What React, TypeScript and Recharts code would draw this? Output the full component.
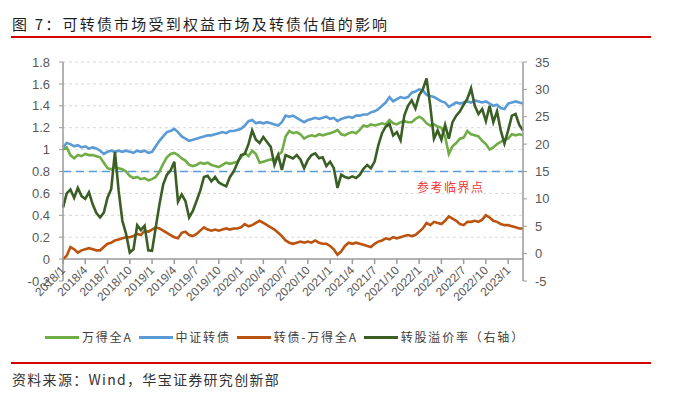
import { LineChart, Line, XAxis, YAxis, CartesianGrid, ReferenceLine } from 'recharts'

// half-month steps from 2018/1 to 2023/3
const quarterTicks = [0, 6, 12, 18, 24, 30, 36, 42, 48, 54, 60, 66, 72, 78, 84, 90, 96, 102, 108, 114, 120]
const quarterLabels = [
  '2018/1', '2018/4', '2018/7', '2018/10', '2019/1', '2019/4', '2019/7', '2019/10',
  '2020/1', '2020/4', '2020/7', '2020/10', '2021/1', '2021/4', '2021/7', '2021/10',
  '2022/1', '2022/4', '2022/7', '2022/10', '2023/1',
]

const leftTicks = [-0.2, 0, 0.2, 0.4, 0.6, 0.8, 1, 1.2, 1.4, 1.6, 1.8]
const rightTicks = [-5, 0, 5, 10, 15, 20, 25, 30, 35]
const gridValues = [0.2, 0.4, 0.6, 0.8, 1, 1.2, 1.4, 1.6, 1.8]

// 万得全A
const windA = [
  1.00, 1.02, 0.95, 0.92, 0.95, 0.94, 0.96, 0.95, 0.95, 0.94,
  0.93, 0.88, 0.83, 0.82, 0.84, 0.83, 0.82, 0.80, 0.76, 0.74,
  0.75, 0.73, 0.74, 0.72, 0.73, 0.75, 0.80, 0.87, 0.93, 0.96,
  0.97, 0.95, 0.92, 0.90, 0.86, 0.85, 0.86, 0.88, 0.87, 0.88,
  0.86, 0.85, 0.84, 0.86, 0.88, 0.87, 0.88, 0.89, 0.93, 0.97,
  0.94, 0.99, 0.96, 0.88, 0.89, 0.90, 0.91, 0.90, 0.95, 0.98,
  1.12, 1.17, 1.15, 1.16, 1.14, 1.10, 1.12, 1.13, 1.12, 1.14,
  1.13, 1.14, 1.15, 1.16, 1.18, 1.14, 1.13, 1.15, 1.16, 1.15,
  1.18, 1.22, 1.21, 1.23, 1.22, 1.23, 1.24, 1.23, 1.27, 1.24,
  1.23, 1.25, 1.26, 1.25, 1.25, 1.28, 1.30, 1.28, 1.24, 1.22,
  1.23, 1.21, 1.20, 1.12, 0.96, 1.03, 1.06, 1.10, 1.11, 1.17,
  1.14, 1.13, 1.12, 1.08, 1.05, 1.00, 1.02, 1.05, 1.07, 1.09,
  1.10, 1.14, 1.13, 1.14, 1.13,
]

// 中证转债
const cbIndex = [
  1.02, 1.06, 1.05, 1.03, 1.04, 1.02, 1.03, 1.01, 1.02, 1.01,
  0.99, 0.96, 0.98, 0.99, 0.98, 0.99, 0.98, 0.99, 0.98, 0.97,
  0.99, 0.98, 0.99, 0.97, 0.98, 1.03, 1.08, 1.12, 1.16, 1.17,
  1.19, 1.16, 1.12, 1.10, 1.08, 1.09, 1.10, 1.11, 1.12, 1.13,
  1.13, 1.14, 1.15, 1.16, 1.15, 1.17, 1.17, 1.18, 1.19, 1.22,
  1.26, 1.27, 1.24, 1.25, 1.24, 1.25, 1.24, 1.23, 1.22, 1.25,
  1.31, 1.30, 1.31, 1.29, 1.27, 1.25, 1.27, 1.28, 1.29, 1.28,
  1.29, 1.30, 1.28, 1.29, 1.26, 1.28, 1.29, 1.30, 1.29, 1.31,
  1.31, 1.32, 1.32, 1.34, 1.35, 1.37, 1.40, 1.43, 1.48, 1.44,
  1.46, 1.48, 1.47, 1.48, 1.52, 1.53, 1.55, 1.54, 1.50, 1.49,
  1.48, 1.46, 1.44, 1.43, 1.39, 1.41, 1.43, 1.42, 1.43, 1.44,
  1.43, 1.45, 1.44, 1.43, 1.44, 1.42, 1.40, 1.41, 1.38, 1.37,
  1.42, 1.43, 1.44, 1.43, 1.42,
]

// 转债-万得全A
const spread = [
  0.00, 0.03, 0.11, 0.09, 0.06, 0.08, 0.09, 0.10, 0.09, 0.08,
  0.08, 0.11, 0.14, 0.15, 0.17, 0.18, 0.19, 0.20, 0.20, 0.21,
  0.23, 0.22, 0.26, 0.25, 0.27, 0.29, 0.28, 0.26, 0.24, 0.22,
  0.20, 0.19, 0.24, 0.25, 0.22, 0.21, 0.23, 0.26, 0.29, 0.27,
  0.26, 0.27, 0.26, 0.27, 0.28, 0.27, 0.28, 0.28, 0.29, 0.32,
  0.30, 0.31, 0.33, 0.35, 0.33, 0.31, 0.29, 0.27, 0.24, 0.21,
  0.17, 0.15, 0.14, 0.15, 0.16, 0.15, 0.16, 0.15, 0.17, 0.15,
  0.14, 0.14, 0.12, 0.09, 0.04, 0.07, 0.12, 0.15, 0.14, 0.15,
  0.14, 0.13, 0.12, 0.11, 0.14, 0.16, 0.17, 0.19, 0.18, 0.20,
  0.19, 0.20, 0.21, 0.22, 0.21, 0.22, 0.25, 0.28, 0.33, 0.31,
  0.34, 0.33, 0.32, 0.35, 0.39, 0.37, 0.35, 0.32, 0.31, 0.34,
  0.34, 0.35, 0.34, 0.36, 0.40, 0.38, 0.35, 0.34, 0.32, 0.31,
  0.31, 0.30, 0.29, 0.28, 0.28,
]

// 转股溢价率 (%), right axis
const premium = [
  8.4, 11.0, 11.7, 10.2, 12.0, 10.5, 10.0, 11.2, 9.0, 7.4,
  6.6, 7.5, 10.2, 11.8, 18.6, 11.5, 6.0, 3.6, 0.2, 0.8,
  5.2, 4.3, 5.1, 0.6, 0.5, 4.8, 9.0, 12.6, 14.4, 15.2,
  16.8, 9.5, 10.8, 9.6, 6.6, 7.8, 9.6, 11.5, 14.0, 14.2,
  13.2, 14.0, 13.0, 12.6, 12.3, 14.0, 15.0, 16.5, 18.0, 18.2,
  20.0, 22.5, 20.8, 20.2, 21.3, 20.4, 19.5, 16.2, 18.0, 15.3,
  18.0, 17.7, 17.4, 18.0, 17.2, 15.6, 17.1, 18.0, 18.3, 17.4,
  17.6, 16.0, 16.8, 15.6, 12.0, 14.4, 14.0, 13.8, 14.1, 13.8,
  14.4, 15.5, 16.2, 15.6, 16.8, 19.8, 22.0, 23.2, 23.7, 21.6,
  22.2, 20.7, 25.2, 27.0, 28.0, 26.5, 28.9, 30.0, 32.0, 27.0,
  21.0, 22.5, 20.8, 23.5, 21.0, 24.0, 25.2, 26.0, 27.2, 28.3,
  30.2, 27.0, 25.5, 26.4, 24.2, 27.0, 24.0, 26.0, 22.5, 20.1,
  22.5, 25.2, 25.5, 23.5, 22.5,
]

const data = windA.map((v, i) => ({ i, windA: v, cb: cbIndex[i], spread: spread[i], premium: premium[i] }))

const CHART_W = 700
const CHART_H = 394
const TOP = 62
const X_AXIS_H = 113
const PLOT_H = CHART_H - TOP - X_AXIS_H
// the x axis sits on left value 0, one 0.2 step above the plot bottom (-0.2)
const ZERO_OFFSET = PLOT_H * 0.2 / 2.0

const AXIS = '#9a9a9a'
const LABEL = '#595959'
const GREEN = '#70AD47'
const BLUE = '#5B9BD5'
const BROWN = '#B9530F'
const DARK = '#3A5E24'
const SANS = '"Liberation Sans", Arial, sans-serif'
const CJK = '"Noto Sans CJK SC", sans-serif'

function QuarterTick(props: any) {
  const { x, y, payload } = props
  const y0 = y - ZERO_OFFSET
  const label = quarterLabels[quarterTicks.indexOf(payload.value)]
  const ax = x + 3
  const ay = y0 + 12
  return (
    <g>
      <line x1={x} x2={x} y1={y0} y2={y0 + 5} stroke={AXIS} strokeWidth={1.5} />
      <text x={ax} y={ay} transform={`rotate(-45 ${ax} ${ay})`} textAnchor="end" fontSize={12} fontFamily={SANS} fill={LABEL}>
        {label}
      </text>
    </g>
  )
}

const legendItems = [
  { name: '万得全A', color: GREEN },
  { name: '中证转债', color: BLUE },
  { name: '转债-万得全A', color: BROWN },
  { name: '转股溢价率（右轴）', color: DARK },
]

export default function App() {
  const tickStyle = { fontSize: 13, fill: LABEL, fontFamily: SANS }
  return (
    <div style={{ position: 'absolute', left: 0, top: 0, width: CHART_W, height: CHART_H, background: '#fff', fontFamily: CJK }}>
      <div style={{ position: 'absolute', left: 12, top: 16, fontSize: 15, lineHeight: '16px', letterSpacing: 2.2, color: '#1f1f1f', whiteSpace: 'nowrap' }}>
        图 7：可转债市场受到权益市场及转债估值的影响
      </div>
      <div style={{ position: 'absolute', left: 11, top: 36, width: 640, height: 2, background: '#D20000' }} />

      <LineChart width={CHART_W} height={CHART_H} data={data} margin={{ top: TOP, right: 0, bottom: 0, left: 0 }}>
        <CartesianGrid yAxisId="left" vertical={false} horizontalValues={gridValues} stroke="#D9D9D9" strokeDasharray="3 3" />
        <XAxis
          dataKey="i"
          type="number"
          domain={[0, 124]}
          ticks={quarterTicks}
          interval={0}
          height={X_AXIS_H}
          axisLine={false}
          tickLine={false}
          tickSize={0}
          tickMargin={0}
          tick={(p: any) => <QuarterTick {...p} />}
        />
        <YAxis
          yAxisId="left"
          width={63}
          domain={[-0.2, 1.8]}
          ticks={leftTicks}
          interval={0}
          allowDataOverflow
          axisLine={{ stroke: AXIS, strokeWidth: 1.5 }}
          tickLine={{ stroke: AXIS }}
          tickSize={4}
          tickMargin={9}
          tick={tickStyle}
          tickFormatter={(v: number) => String(Number(v.toFixed(1)))}
        />
        <YAxis
          yAxisId="right"
          orientation="right"
          width={177}
          domain={[-5, 35]}
          ticks={rightTicks}
          interval={0}
          allowDataOverflow
          axisLine={{ stroke: AXIS, strokeWidth: 1.5 }}
          tickLine={{ stroke: AXIS }}
          tickSize={4}
          tickMargin={8}
          tick={{ ...tickStyle, textAnchor: 'start' }}
        />
        <ReferenceLine yAxisId="left" y={0} stroke={AXIS} strokeWidth={1.5} />
        <ReferenceLine yAxisId="left" y={0.8} stroke={BLUE} strokeWidth={1.5} strokeDasharray="8 5" />
        <Line yAxisId="left" dataKey="windA" stroke={GREEN} strokeWidth={2.6} dot={false} isAnimationActive={false} />
        <Line yAxisId="left" dataKey="cb" stroke={BLUE} strokeWidth={2.6} dot={false} isAnimationActive={false} />
        <Line yAxisId="left" dataKey="spread" stroke={BROWN} strokeWidth={2.6} dot={false} isAnimationActive={false} />
        <Line yAxisId="right" dataKey="premium" stroke={DARK} strokeWidth={2.6} dot={false} isAnimationActive={false} />
      </LineChart>

      <div style={{ position: 'absolute', left: 417, top: 180, fontSize: 12, lineHeight: '14px', letterSpacing: 1.5, color: '#F03535', whiteSpace: 'nowrap' }}>
        参考临界点
      </div>

      <div style={{ position: 'absolute', left: 45, top: 330, height: 14, display: 'flex', alignItems: 'center' }}>
        {legendItems.map((it) => (
          <div key={it.name} style={{ display: 'flex', alignItems: 'center', marginRight: 6 }}>
            <span style={{ display: 'inline-block', width: 34, height: 3, background: it.color, marginRight: 3 }} />
            <span style={{ fontSize: 12, lineHeight: '14px', letterSpacing: 1.8, color: '#404040', whiteSpace: 'nowrap' }}>{it.name}</span>
          </div>
        ))}
      </div>

      <div style={{ position: 'absolute', left: 11, top: 362, width: 640, height: 2, background: '#D20000' }} />
      <div style={{ position: 'absolute', left: 12, top: 371, fontSize: 14, lineHeight: '16px', letterSpacing: 1.3, color: '#333', whiteSpace: 'nowrap' }}>
        资料来源：Wind，华宝证券研究创新部
      </div>
    </div>
  )
}
